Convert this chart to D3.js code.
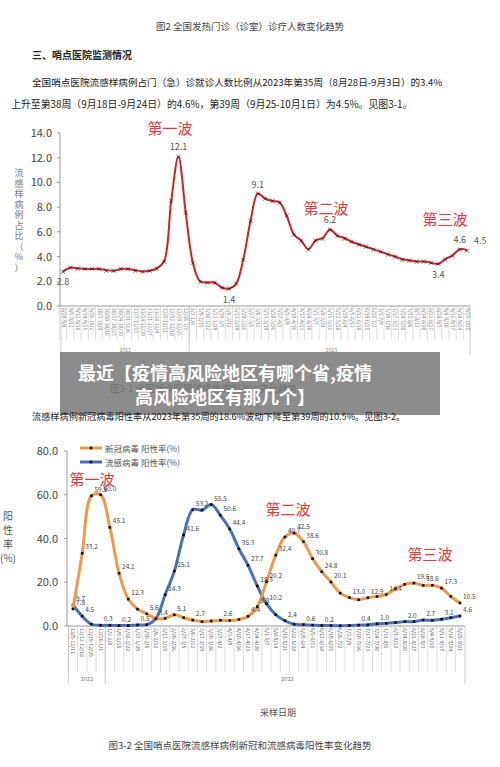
<!DOCTYPE html>
<html><head><meta charset="utf-8">
<script src="https://cdn.jsdelivr.net/npm/d3@7"></script>
<style>body{margin:0;background:#fff}svg{font-family:"Noto Sans CJK SC","Liberation Serif",sans-serif}</style>
</head><body><svg width="500" height="767"></svg>
<script>
// chart 3-1: ILI share (%) per week, 2022 wk35 .. 2023 wk39
const iliValues = [2.8,3.1,3.05,3.0,3.0,3.0,2.9,2.85,3.0,3.0,2.9,2.8,2.85,3.05,3.6,8.5,12.1,7.6,3.5,2.0,
  1.9,1.9,1.5,1.4,1.8,3.8,6.9,9.1,8.7,8.5,8.4,7.3,5.8,5.3,4.6,5.3,5.5,6.2,5.7,5.5,
  5.2,5.0,4.8,4.6,4.4,4.2,4.0,3.8,3.7,3.6,3.6,3.5,3.4,3.8,4.1,4.6,4.5];
const iliLabels = [[0,"2.8"],[16,"12.1"],[23,"1.4"],[27,"9.1"],[37,"6.2"],[52,"3.4"],[55,"4.6"],[56,"4.5"]];
const iliTicks = [0,2,4,6,8,10,12,14];

// chart 3-2: positivity (%) per week 12/5/2022 .. 9/25/2023
const weekLabels = ["12/5-12/11","12/12-12/18","12/19-12/25","12/26-1/1","1/2-1/8","1/9-1/15","1/16-1/22","1/23-1/29",
  "1/30-2/5","2/6-2/12","2/13-2/19","2/20-2/26","2/27-3/5","3/6-3/12","3/13-3/19","3/20-3/26","3/27-4/2","4/3-4/9",
  "4/10-4/16","4/17-4/23","4/24-4/30","5/1-5/7","5/8-5/14","5/15-5/21","5/22-5/28","5/29-6/4","6/5-6/11","6/12-6/18",
  "6/19-6/25","6/26-7/2","7/3-7/9","7/10-7/16","7/17-7/23","7/24-7/30","7/31-8/6","8/7-8/13","8/14-8/20","8/21-8/27",
  "8/28-9/3","9/4-9/10","9/11-9/17","9/18-9/24","9/25-10/1"];
const covid = [7.8,33.2,59.5,60.0,45.1,24.1,12.3,7.7,5.6,3.4,3.5,5.1,3.8,2.7,2.0,2.3,2.6,2.5,3.0,4.4,8.8,20.2,32.4,40.7,
  42.5,38.6,30.8,24.8,20.1,15.0,13.0,12.0,12.9,13.5,14.4,17.0,19.0,19.6,18.6,18.6,17.3,13.5,10.5];
const flu = [9.7,4.5,0.8,0.3,0.3,0.2,0.2,0.5,0.6,3.4,14.3,25.1,41.6,53.2,53.0,55.5,50.6,44.4,35.3,27.7,18.3,10.2,5.2,2.4,
  0.8,0.6,0.4,0.2,0.2,0.1,0.2,0.4,0.5,1.0,1.2,1.6,2.0,2.0,2.7,2.6,3.1,3.8,4.6];
const covidShown = [0,1,2,3,4,5,6,8,9,11,13,16,19,20,21,22,23,24,25,26,27,28,30,32,34,37,38,40,42];
const fluShown = [0,1,3,5,7,10,11,12,13,15,16,17,18,19,20,21,23,25,27,31,33,36,38,40,42];
const posTicks = [0,20,40,60,80];

const svg = d3.select("svg");
const gray = "#444";
const txt = (x, y, s, size, opt = {}) => svg.append("text").attr("x", x).attr("y", y).text(s)
  .attr("font-size", size).attr("fill", opt.fill || gray).attr("text-anchor", opt.anchor || "start")
  .attr("font-weight", opt.bold ? "bold" : null);

txt(250, 30, "图2 全国发热门诊（诊室）诊疗人数变化趋势", 9.5, {anchor: "middle"});
txt(32, 59, "三、哨点医院监测情况", 10, {bold: true, fill: "#222"});
txt(32, 86, "全国哨点医院流感样病例占门（急）诊就诊人数比例从2023年第35周（8月28日-9月3日）的3.4%", 9.6, {fill: "#222"});
txt(11, 108, "上升至第38周（9月18日-9月24日）的4.6%，第39周（9月25-10月1日）为4.5%。见图3-1。", 9.9, {fill: "#222"});

// ---- chart 3-1
const x1 = d3.scalePoint().domain(d3.range(iliValues.length)).range([63, 467]);
const y1 = d3.scaleLinear().domain([0, 14]).range([306, 133]);
const g1 = svg.append("g");
g1.append("line").attr("x1", 60).attr("x2", 60).attr("y1", 133).attr("y2", 306).attr("stroke", "#999");
g1.append("line").attr("x1", 60).attr("x2", 470).attr("y1", 306).attr("y2", 306).attr("stroke", "#999");
iliTicks.forEach(t => {
  g1.append("line").attr("x1", 57).attr("x2", 60).attr("y1", y1(t)).attr("y2", y1(t)).attr("stroke", "#999");
  txt(52, y1(t) + 4, t.toFixed(1), 11, {anchor: "end"});
});
"流感样病例占比（%）".split("").forEach((c, i) => txt(19, 176 + i * 10.5, c, 9, {anchor: "middle", fill: "#777"}));
const line1 = d3.line().x((d, i) => x1(i)).y(d => y1(d)).curve(d3.curveCatmullRom);
g1.append("path").attr("d", line1(iliValues)).attr("fill", "none").attr("stroke", "#c8262b").attr("stroke-width", 2);
iliValues.forEach((v, i) => g1.append("text").attr("x", x1(i)).attr("y", y1(v) + 2.5).text("×")
  .attr("font-size", 7).attr("text-anchor", "middle").attr("fill", "#111"));
iliLabels.forEach(([i, s]) => {
  const below = s === "2.8" || s === "1.4" || s === "3.4";
  txt(x1(i) + (s === "4.5" ? 7 : 0), y1(iliValues[i]) + (below ? 14 : -6), s, 9, {anchor: s === "4.5" ? "start" : "middle", fill: "#555"});
});
// week tick labels (dates of each week start)
const start1 = new Date(2022, 7, 29);
d3.range(iliValues.length).forEach(i => {
  const a = d3.timeDay.offset(start1, i * 7), b = d3.timeDay.offset(a, 6);
  const s = `${a.getMonth() + 1}/${a.getDate()}-${b.getMonth() + 1}/${b.getDate()}`;
  const xx = x1(i) - 3.6;
  g1.append("line").attr("x1", xx).attr("x2", xx).attr("y1", 306).attr("y2", 340).attr("stroke", "#bbb").attr("stroke-width", 0.5);
  g1.append("text").attr("transform", `translate(${x1(i) - 1.5},308) rotate(90)`).text(s)
    .attr("font-size", 5).attr("fill", "#888");
});
[[61, "2022"], [x1(18) - 3.6, "2023"], [470, null]].forEach(([xx]) =>
  g1.append("line").attr("x1", xx).attr("x2", xx).attr("y1", 306).attr("y2", 355).attr("stroke", "#aaa").attr("stroke-width", 0.6));
txt((61 + x1(18) - 3.6) / 2, 352, "2022", 5, {anchor: "middle", fill: "#888"});
txt((x1(18) + 470) / 2, 352, "2023", 5, {anchor: "middle", fill: "#888"});
const red = "#e0393e";
txt(170, 134, "第一波", 15, {anchor: "middle", fill: red});
txt(326, 214, "第二波", 15, {anchor: "middle", fill: red});
txt(445, 225, "第三波", 15, {anchor: "middle", fill: red});
txt(110, 392, "图3-1  全国哨点医院流感样病例占比变化趋势", 9.5, {});

// banner
svg.append("rect").attr("x", 60).attr("y", 352).attr("width", 380).attr("height", 63).attr("fill", "rgba(120,120,120,0.85)");
txt(225, 380, "最近【疫情高风险地区有哪个省,疫情", 18, {anchor: "middle", fill: "#fff", bold: true});
txt(225, 404, "高风险地区有那几个】", 18, {anchor: "middle", fill: "#fff", bold: true});
txt(32, 420, "流感样病例新冠病毒阳性率从2023年第35周的18.6%波动下降至第39周的10.5%。见图3-2。", 9.2, {fill: "#222"});

// ---- chart 3-2
const x2 = d3.scalePoint().domain(d3.range(covid.length)).range([73, 460]);
const y2 = d3.scaleLinear().domain([0, 80]).range([626, 451]);
const g2 = svg.append("g");
g2.append("line").attr("x1", 67).attr("x2", 67).attr("y1", 451).attr("y2", 626).attr("stroke", "#999");
g2.append("line").attr("x1", 67).attr("x2", 465).attr("y1", 626).attr("y2", 626).attr("stroke", "#999");
posTicks.forEach(t => {
  g2.append("line").attr("x1", 64).attr("x2", 67).attr("y1", y2(t)).attr("y2", y2(t)).attr("stroke", "#999");
  txt(58, y2(t) + 4, t.toFixed(1), 11, {anchor: "end"});
});
["阳", "性", "率", "(%)"].forEach((c, i) => txt(8, 520 + i * 14, c, 10, {anchor: "middle", fill: "#555"}));
const line2 = d3.line().x((d, i) => x2(i)).y(d => y2(d)).curve(d3.curveCatmullRom);
[[flu, "#4a6fb5", fluShown], [covid, "#ee9a4d", covidShown]].forEach(([data, col, shown]) => {
  g2.append("path").attr("d", line2(data)).attr("fill", "none").attr("stroke", col).attr("stroke-width", 3);
  data.forEach((v, i) => g2.append("rect").attr("x", x2(i) - 1.3).attr("y", y2(v) - 1.3).attr("width", 2.6).attr("height", 2.6).attr("fill", "#111"));
  shown.forEach(i => txt(x2(i) + 3, y2(data[i]) - 4, data[i].toFixed(1), 6.5, {fill: "#444"}));
});
// legend
[["新冠病毒 阳性率(%)", "#ee9a4d", 448], ["流感病毒 阳性率(%)", "#4a6fb5", 462]].forEach(([s, col, yy]) => {
  g2.append("line").attr("x1", 80).attr("x2", 102).attr("y1", yy).attr("y2", yy).attr("stroke", col).attr("stroke-width", 3);
  g2.append("rect").attr("x", 89.7).attr("y", yy - 1.3).attr("width", 2.6).attr("height", 2.6).attr("fill", "#111");
  txt(105, yy + 3.5, s, 8.5, {fill: "#555"});
});
weekLabels.forEach((s, i) => {
  const xx = x2(i) - 4.6;
  g2.append("line").attr("x1", xx).attr("x2", xx).attr("y1", 626).attr("y2", 672).attr("stroke", "#bbb").attr("stroke-width", 0.5);
  g2.append("text").attr("transform", `translate(${x2(i) - 2},628) rotate(90)`).text(s).attr("font-size", 5.2).attr("fill", "#666");
});
[x2(0) - 4.6, x2(4) - 4.6, 465].forEach(xx =>
  g2.append("line").attr("x1", xx).attr("x2", xx).attr("y1", 626).attr("y2", 684).attr("stroke", "#aaa").attr("stroke-width", 0.6));
txt((x2(0) + x2(4)) / 2 - 4.6, 681, "2022", 5.5, {anchor: "middle", fill: "#777"});
txt((x2(4) + 465) / 2, 681, "2023", 5.5, {anchor: "middle", fill: "#777"});
txt(278, 716, "采样日期", 9, {anchor: "middle", fill: "#555"});
txt(240, 749, "图3-2 全国哨点医院流感样病例新冠和流感病毒阳性率变化趋势", 9.5, {anchor: "middle"});
txt(92, 485, "第一波", 15, {anchor: "middle", fill: red});
txt(288, 515, "第二波", 15, {anchor: "middle", fill: red});
txt(430, 560, "第三波", 15, {anchor: "middle", fill: red});
</script></body></html>
